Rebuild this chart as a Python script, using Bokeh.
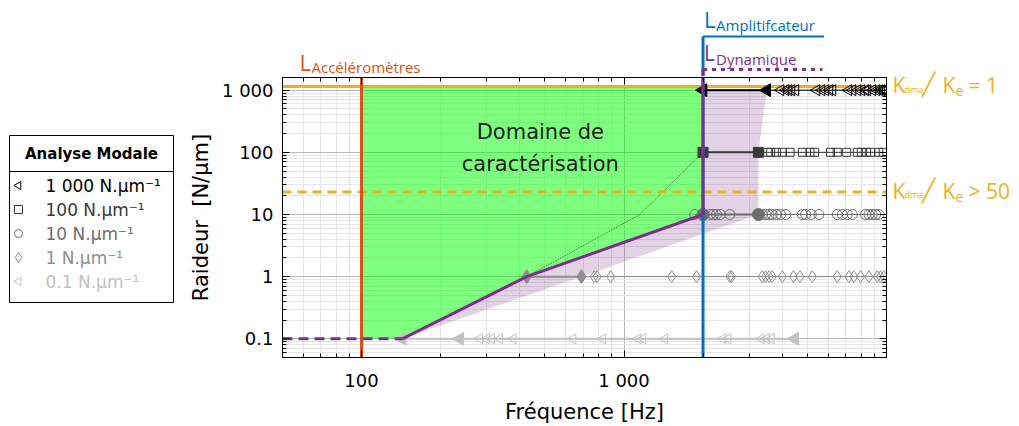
import math
from bokeh.plotting import figure
from bokeh.models import Range1d, LogAxis, FixedTicker, Spacer
from bokeh.layouts import row, column
from bokeh.embed import file_html
from bokeh.resources import INLINE
from bokeh.core.properties import value

# ---------------- data ----------------
stiffness = [1000, 100, 10, 1, 0.1]
legend_text = ["1 000 N.μm⁻¹", "100 N.μm⁻¹", "10 N.μm⁻¹", "1 N.μm⁻¹", "0.1 N.μm⁻¹"]
row_colors = ["#000000", "#3a3a3a", "#6e6e6e", "#8e8e8e", "#c2c2c2"]
row_markers = ["triangle", "square", "circle", "diamond", "triangle"]

f_1000_filled = [2000, 3500]
f_1000_open = [3950, 4130, 4240, 4350, 4500, 5420, 5660, 5860, 6070, 6230, 7170, 7430,
               7760, 8040, 8320, 8470, 8850, 9170, 9410, 9580, 9750, 9950]
f_100_filled = [2000, 3250]
f_100_open = [3530, 3620, 3810, 4010, 4290, 4780, 5110, 5320, 6120, 6490, 7050, 7740,
              8020, 8400, 8700, 9350, 9720]
f_10_filled = [2000, 3250]
f_10_open = [1860, 2130, 2190, 2250, 2330, 2530, 3360, 3460, 3570, 3670, 3810, 3950, 4130,
             4780, 4920, 5170, 5530, 6490, 6790, 7090, 7410, 8320, 8570, 8830, 9090, 9350]
f_1_filled = [426, 688]
f_1_open = [770, 790, 890, 1520, 1890, 2530, 2570, 3360, 3460, 3570, 3670, 4010, 4420, 4680,
            5220, 6490, 7190, 7510, 7970, 8570, 9220, 9490, 9770]
f_01_filled = [143, 237, 4470]
f_01_open = [282, 299, 313, 336, 378, 639, 831, 1130, 1180, 1430, 2380, 2490, 3330, 3490, 3640]

filled_sets = [f_1000_filled, f_100_filled, f_10_filled, f_1_filled, f_01_filled]
open_sets = [f_1000_open, f_100_open, f_10_open, f_1_open, f_01_open]

# limits / bounds
L_ACC = 100          # accelerometer limit [Hz]
L_AMP = 2000         # amplifier limit [Hz]
K_RATIO_1 = 1150     # Kdma/Ke = 1
K_RATIO_50 = 23      # Kdma/Ke > 50

dyn_f = [143, 426, 2000, 2000, 2000]
dyn_k = [0.1, 1, 10, 100, 1000]
green_f = [100, 143, 426, 2000, 2000, 100]
green_k = [0.1, 0.1, 1, 10, 1150, 1150]
shade_f = [143, 426, 2000, 2000, 2000, 3500, 3250, 3250, 688]
shade_k = [0.1, 1, 10, 100, 1000, 1000, 100, 10, 1]
guide_f = [426, 1150, 2000]
guide_k = [1, 10, 100]

X_MIN, X_MAX = 50, 10000
Y_MIN, Y_MAX = 0.05, 1600

x_major = [100, 1000, 10000]
x_minor = [60, 70, 80, 90, 200, 300, 400, 500, 600, 700, 800, 900,
           2000, 3000, 4000, 5000, 6000, 7000, 8000, 9000]
y_major = [0.1, 1, 10, 100, 1000]
y_minor = [0.06, 0.07, 0.08, 0.09, 0.2, 0.3, 0.4, 0.5, 0.6, 0.7, 0.8, 0.9,
           2, 3, 4, 5, 6, 7, 8, 9, 20, 30, 40, 50, 60, 70, 80, 90,
           200, 300, 400, 500, 600, 700, 800, 900]
x_labels = {100: "100", 1000: "1 000", 10000: ""}
y_labels = {0.1: "0.1", 1: "1", 10: "10", 100: "100", 1000: "1 000"}

ORANGE = "#D95319"
BLUE = "#0072BD"
PURPLE = "#7E2F8E"
YELLOW = "#EDB120"

PAGE_TOP = 8          # top offset of the drawing inside the window
TOTAL_H = 418         # height below that offset
TOP_H = 68            # annotation strip (below the offset)
MB_TOP = 1
MB_BOTTOM = 67
MAIN_H = TOTAL_H - TOP_H
FRAME_H = MAIN_H - MB_TOP - MB_BOTTOM
CENTER_W = 714
RIGHT_W = 123

# ---------------- main figure ----------------
p = figure(width=CENTER_W, height=MAIN_H, x_axis_type="log", y_axis_type="log",
           x_range=Range1d(X_MIN, X_MAX), y_range=Range1d(Y_MIN, Y_MAX),
           output_backend="svg", toolbar_location=None,
           min_border_left=108, min_border_right=2, min_border_top=MB_TOP,
           min_border_bottom=MB_BOTTOM)
p.outline_line_color = "black"
p.outline_line_alpha = 1
p.background_fill_color = "white"
p.border_fill_color = "white"

xt = FixedTicker(ticks=x_major, minor_ticks=x_minor)
yt = FixedTicker(ticks=y_major, minor_ticks=y_minor)
p.xaxis.ticker = xt
p.yaxis.ticker = yt
p.xgrid.ticker = xt
p.ygrid.ticker = yt
for g in (p.xgrid, p.ygrid):
    g.grid_line_color = "#b5b5b5"
    g.minor_grid_line_color = "#e6e6e6"


def style_axis(ax, labels=True):
    ax.major_tick_in = 7
    ax.major_tick_out = 0
    ax.minor_tick_in = 4
    ax.minor_tick_out = 0
    ax.axis_line_color = "black"
    ax.major_tick_line_color = "black"
    ax.minor_tick_line_color = "black"
    ax.major_label_text_font = "DejaVu Sans"
    ax.major_label_text_color = "black"
    ax.axis_label_text_font = "DejaVu Sans"
    ax.axis_label_text_font_size = "21px"
    ax.axis_label_text_font_style = "normal"
    ax.axis_label_text_color = "black"
    if labels:
        ax.major_label_text_font_size = "18px"
    else:
        ax.major_label_text_font_size = "0px"
        ax.major_label_standoff = 0


style_axis(p.xaxis[0])
style_axis(p.yaxis[0])
p.xaxis[0].major_label_overrides = x_labels
p.yaxis[0].major_label_overrides = y_labels
p.xaxis[0].major_label_standoff = 12
p.xaxis[0].axis_label_standoff = 6
p.yaxis[0].major_label_standoff = 9
p.yaxis[0].axis_label_standoff = 6
p.xaxis[0].axis_label = "Fréquence [Hz]"
p.yaxis[0].axis_label = "Raideur \u00a0[N/μm]"

top_ax = LogAxis(ticker=xt)
style_axis(top_ax, labels=False)
top_ax.major_label_overrides = {t: "" for t in x_major}
p.add_layout(top_ax, "above")
right_ax = LogAxis(ticker=yt)
style_axis(right_ax, labels=False)
right_ax.major_label_overrides = {t: "" for t in y_major}
p.add_layout(right_ax, "right")

# regions
p.patch(green_f, green_k, fill_color="#00ff00", fill_alpha=0.5, line_color=None)
p.patch(shade_f, shade_k, fill_color=PURPLE, fill_alpha=0.22, line_color=None)
p.line(guide_f, guide_k, line_color="#2a4a2a", line_width=0.8, line_dash="1 1")

# stiffness ratio lines
p.line([X_MIN, X_MAX], [K_RATIO_1, K_RATIO_1], line_color=YELLOW, line_width=3)
p.line([X_MIN, X_MAX], [K_RATIO_50, K_RATIO_50], line_color=YELLOW, line_width=3,
       line_dash="9 6")

# modal analysis rows
open_sizes = [11, 8, 10, 12, 10]
filled_sizes = [13, 10, 12, 14, 13]
for k, col, mk, fs, os_, szo, szf in zip(stiffness, row_colors, row_markers, filled_sets,
                                          open_sets, open_sizes, filled_sizes):
    allf = sorted(fs + os_)
    ang = math.pi / 2 if mk == "triangle" else 0
    p.line(allf, [k] * len(allf), line_color=col, line_width=1)
    p.line(fs, [k] * len(fs), line_color=col, line_width=2)
    p.scatter(os_, [k] * len(os_), marker=mk, size=szo, angle=ang,
              line_color=col, fill_color=None, line_width=1)
    p.scatter(fs, [k] * len(fs), marker=mk, size=szf, angle=ang,
              line_color=col, fill_color=col, line_width=1)

# limit lines
p.line([L_ACC, L_ACC], [Y_MIN, Y_MAX], line_color=ORANGE, line_width=3)
p.line([L_AMP, L_AMP], [Y_MIN, Y_MAX], line_color=BLUE, line_width=3)
p.line(dyn_f + [L_AMP], dyn_k + [Y_MAX], line_color=PURPLE, line_width=3)
p.line([X_MIN, dyn_f[0]], [0.1, 0.1], line_color=PURPLE, line_width=3, line_dash="10 6")

p.text(x=[480], y=[117], text=["Domaine de\ncaractérisation"],
       text_font=value("DejaVu Sans"), text_font_size="21px", text_color="#222222",
       text_align="center", text_baseline="middle", text_line_height=1.3)

# ---------------- right strip (Kdma/Ke labels), same log scale as main ----------------
dec_per_px = math.log10(Y_MAX / Y_MIN) / FRAME_H
r_top = Y_MAX * 10 ** ((TOP_H + MB_TOP) * dec_per_px)
r_bottom = Y_MIN / 10 ** (MB_BOTTOM * dec_per_px)
pr = figure(width=RIGHT_W, height=TOTAL_H, y_axis_type="log",
            y_range=Range1d(r_bottom, r_top),
            x_range=Range1d(0, RIGHT_W), x_axis_location=None, y_axis_location=None,
            output_backend="svg", toolbar_location=None, min_border=0)
pr.outline_line_color = None
pr.grid.visible = False


def k_label(kval, base, tail):
    parts = [("K", 4, base, "21px"), ("dma", 16, base + 4, "9px"), ("╱", 33, base - 2, "22px"),
             ("K", 54, base, "21px"), ("e", 67, base + 6, "14px"), (tail, 80, base, "21px")]
    for txt, xx, dy, sz in parts:
        pr.text(x=[xx], y=[kval], y_offset=dy, text=[txt], text_font=value("Open Sans"),
                text_font_size=sz, text_color=YELLOW, text_align="left",
                text_baseline="alphabetic")


k_label(K_RATIO_1, -1, "= 1")
k_label(K_RATIO_50, -2, "> 50")

# ---------------- top annotation strip (page y coordinates, from window top) ----------------
STRIP_H = PAGE_TOP + TOP_H
pt = figure(width=CENTER_W, height=STRIP_H, x_axis_type="log", x_range=p.x_range,
            y_range=Range1d(STRIP_H, 0), x_axis_location=None, y_axis_location=None,
            output_backend="svg", toolbar_location=None,
            min_border_left=108, min_border_right=2, min_border_top=0, min_border_bottom=0)
pt.outline_line_color = None
pt.grid.visible = False
pt.line([L_AMP, L_AMP], [STRIP_H, 36], line_color=BLUE, line_width=3)
pt.line([L_AMP, L_AMP * 2.89], [36, 36], line_color=BLUE, line_width=2)
pt.line([L_AMP, L_AMP], [STRIP_H, 69], line_color=PURPLE, line_width=3)
pt.line([L_AMP, L_AMP * 2.85], [69, 69], line_color=PURPLE, line_width=3, line_dash="4 5")


def l_label(fig, xv, dx, y_big, y_sub, sub, color, lsize="22px"):
    fig.text(x=[xv], y=[y_big], x_offset=dx, text=["L"], text_font=value("Open Sans"),
             text_font_size=lsize, text_color=color, text_baseline="alphabetic")
    fig.text(x=[xv], y=[y_sub], x_offset=dx + 12, text=[sub],
             text_font=value("Open Sans"), text_font_size="15px", text_color=color,
             text_baseline="alphabetic")


l_label(pt, L_ACC, -62, 61.5, 66, "Accéléromètres", ORANGE)
l_label(pt, L_AMP, 1, 18, 24, "Amplitifcateur", BLUE)
l_label(pt, L_AMP, 1, 52, 58, "Dynamique", PURPLE, "21px")

# ---------------- legend box ----------------
pl = figure(width=166, height=169, x_range=Range1d(0, 164), y_range=Range1d(167, 0),
            x_axis_location=None, y_axis_location=None, min_border=1,
            output_backend="svg", toolbar_location=None)
pl.outline_line_color = "black"
pl.outline_line_width = 1
pl.grid.visible = False
pl.text(x=[82], y=[18], text=["Analyse Modale"], text_font=value("DejaVu Sans"),
        text_font_style="bold", text_font_size="15px", text_align="center",
        text_baseline="middle", text_color="black")
pl.line([0, 164], [36, 36], line_color="black", line_width=1)
leg_y = [50, 74, 98, 122, 146]
for yy, col, mk in zip(leg_y, row_colors, row_markers):
    ang = math.pi / 2 if mk == "triangle" else 0
    pl.scatter([9], [yy], marker=mk, size=8 if mk != "diamond" else 10, angle=ang,
               line_color=col, fill_color=None)
pl.text(x=[36] * 5, y=leg_y, text=legend_text, text_color=row_colors,
        text_font=value("DejaVu Sans"), text_font_size="17px", text_baseline="middle")

layout = row(
    Spacer(width=8, height=PAGE_TOP + TOTAL_H),
    column(Spacer(width=166, height=PAGE_TOP + 126), pl),
    column(pt, p),
    column(Spacer(width=RIGHT_W, height=PAGE_TOP), pr))
open("out.html", "w").write(file_html(layout, INLINE))
